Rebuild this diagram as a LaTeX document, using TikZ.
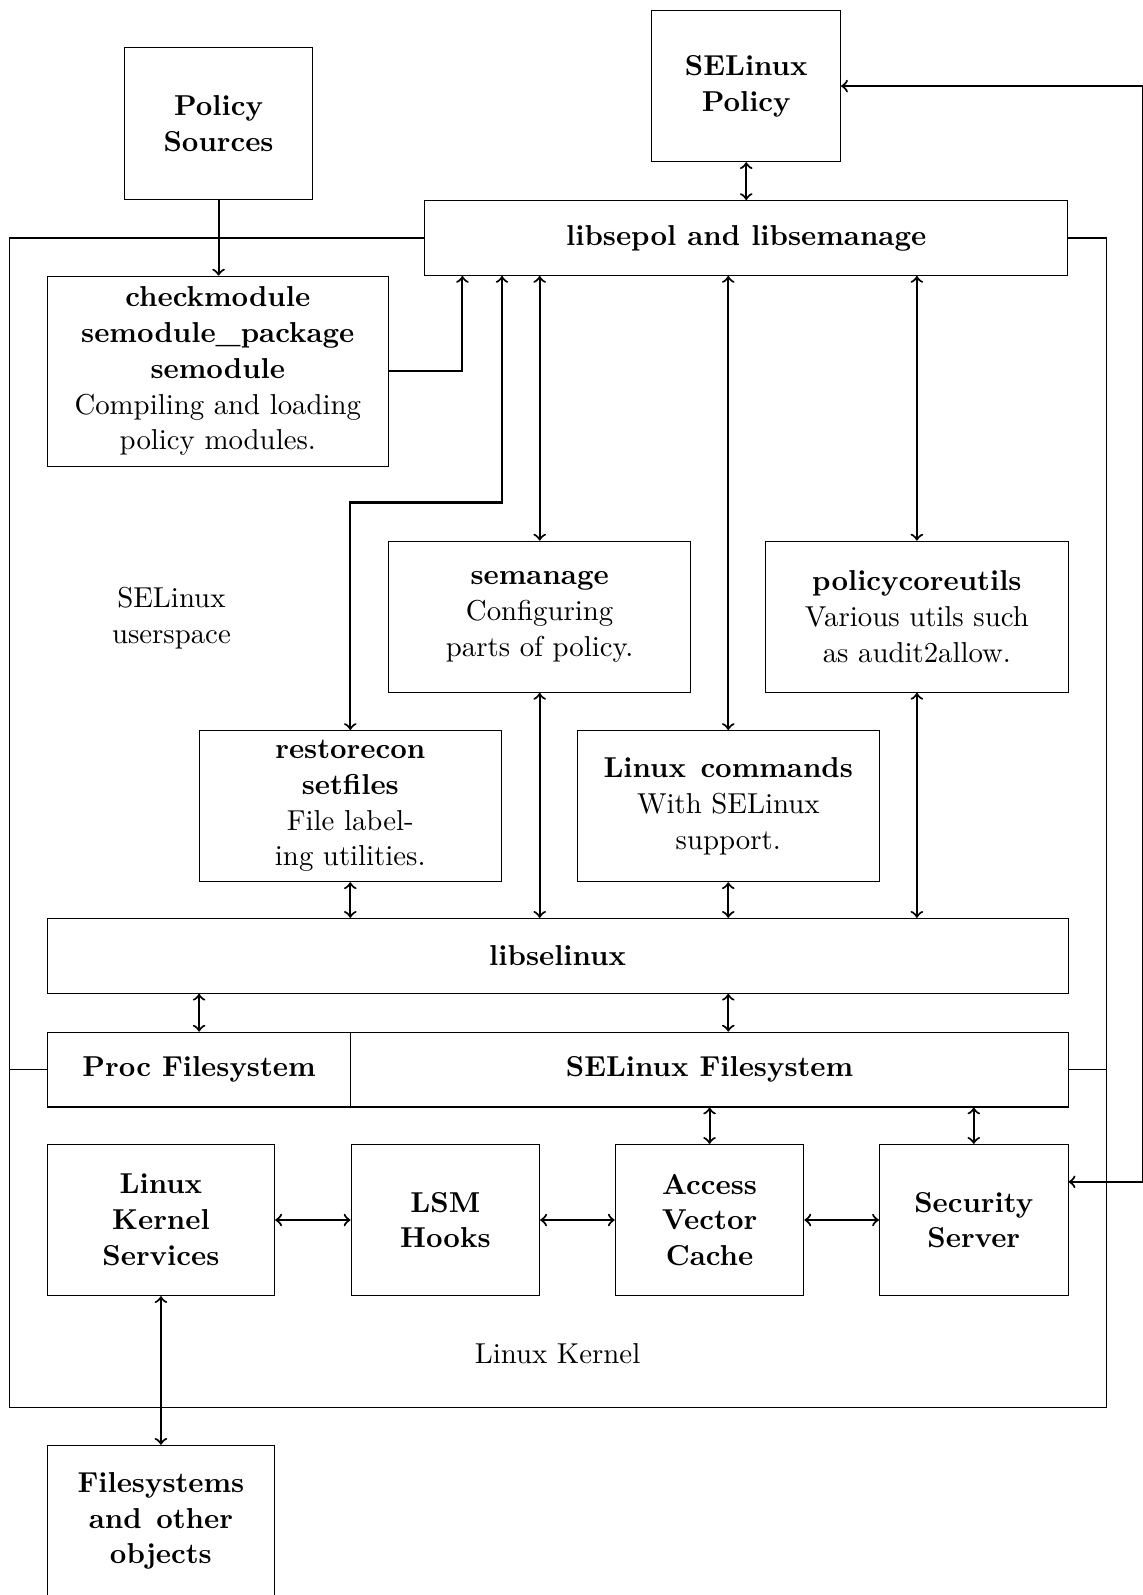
\documentclass[tikz,border=0pt,11pt]{standalone}

\begin{document}
\begin{tikzpicture}[
    box/.style={rectangle, draw, fill=white, align=center},
    title/.style={box, font=\bfseries},
    small/.style={title, minimum width=2.52cm, minimum height=2.02cm},
    wide/.style={box, minimum width=4.04cm, minimum height=2.02cm},
    bar/.style={title, minimum height=1.0cm},
    link/.style={thick, <->}
    ]
    \useasboundingbox (0,0) rectangle (15.27,-21.31);

    % userspace and kernel frames
    \draw (0.13,-3.18) rectangle (14.78,-14.29);
    \draw (0.13,-14.29) rectangle (14.78,-18.80);
    \node[align=center] (us) at (2.29,-8.26) {SELinux\\userspace};
    \node (lk) at (7.45,-18.08) {Linux Kernel};

    % top
    \node[small] (src) at (2.92,-1.65) {Policy\\Sources};
    \node[small] (pol) at (9.97,-1.15) {SELinux\\Policy};
    \node[bar, minimum width=8.59cm] (lib) at (9.97,-3.18) {libsepol and libsemanage};
    \node[box, minimum width=4.55cm, minimum height=2.54cm] (chk) at (2.91,-4.96)
      {\textbf{checkmodule}\\\textbf{semodule\_package}\\\textbf{semodule}\\Compiling and loading\\policy modules.};

    % tools
    \node[wide] (sem) at (7.21,-8.24) {\textbf{semanage}\\Configuring\\parts of policy.};
    \node[wide] (pcu) at (12.25,-8.24) {\textbf{policycoreutils}\\Various utils such\\as audit2allow.};
    \node[wide] (rst) at (4.68,-10.77) {\textbf{restorecon}\\\textbf{setfiles}\\File label-\\ing utilities.};
    \node[wide] (lcmd) at (9.73,-10.77) {\textbf{Linux\hspace{5.5pt}commands}\\With SELinux\\support.};
    \node[bar, minimum width=13.64cm] (sel) at (7.45,-12.77) {libselinux};

    % kernel
    \node[bar, minimum width=4.05cm] (proc) at (2.66,-14.29) {Proc Filesystem};
    \node[bar, minimum width=9.59cm] (sfs) at (9.48,-14.29) {SELinux Filesystem};
    \node[small, minimum width=3.04cm] (lks) at (2.15,-16.30) {Linux\\Kernel\\Services};
    \node[small] (lsm) at (5.95,-16.30) {LSM\\Hooks};
    \node[small] (avc) at (9.48,-16.30) {Access\\Vector\\Cache};
    \node[small] (ss) at (13.01,-16.30) {Security\\Server};
    \node[small, minimum width=3.04cm] (fso) at (2.15,-20.32) {Filesystems\\and\hspace{5.5pt}other\\objects};

    % connectors
    \draw[thick, ->] (src.south) -- (src.south |- chk.north);
    \draw[thick, ->] (chk.east) -| ([xshift=0.51cm]lib.south west);
    \draw[link] (lib.south -| rst.north east) |- ([yshift=3.04cm]rst.north) -- (rst.north);
    \draw[link] (pol) -- (lib);
    \draw[link] (sem.north |- lib.south) -- (sem.north);
    \draw[link] (lcmd.north |- lib.south) -- (lcmd.north);
    \draw[link] (pcu.north |- lib.south) -- (pcu.north);
    \draw[link] (rst.south) -- (rst.south |- sel.north);
    \draw[link] (sem.south) -- (sem.south |- sel.north);
    \draw[link] (lcmd.south) -- (lcmd.south |- sel.north);
    \draw[link] (pcu.south) -- (pcu.south |- sel.north);
    \draw[link] (proc.north |- sel.south) -- (proc.north);
    \draw[link] (lcmd.south |- sel.south) -- (lcmd.south |- sfs.north);
    \draw[link] (avc.north |- sfs.south) -- (avc.north);
    \draw[link] (ss.north |- sfs.south) -- (ss.north);
    \draw[link] (lks) -- (lsm);
    \draw[link] (lsm) -- (avc);
    \draw[link] (avc) -- (ss);
    \draw[link] (lks) -- (fso);
    \draw[link] (pol.east) -- ++(4.03,0) |- ([yshift=0.51cm]ss.east);
\end{tikzpicture}
\end{document}
